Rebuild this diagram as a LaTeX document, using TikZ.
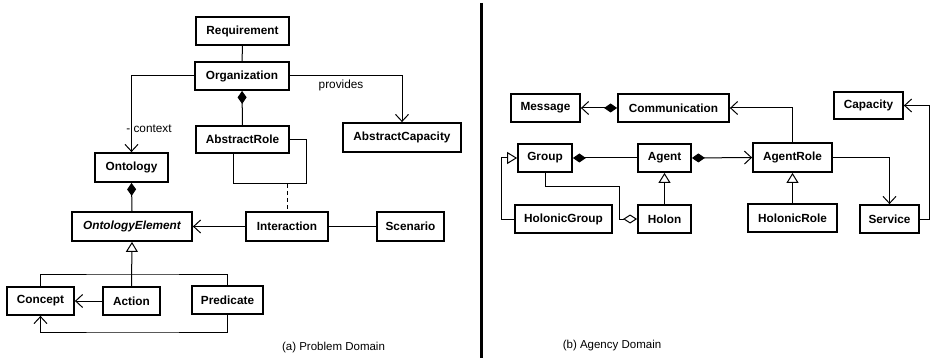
\documentclass[tikz,border=0pt]{standalone}
\usepackage{fontspec}
\setmainfont{Liberation Sans}
\usetikzlibrary{arrows.meta}
\tikzset{
  cls/.style={draw, line width=1.8pt, font=\fontsize{11.8}{14}\selectfont\bfseries, inner sep=0pt, minimum height=28pt, anchor=center},
  conn/.style={line width=1pt},
  barb/.tip={Straight Barb[length=7pt,width=13pt,line width=1pt]},
  comp/.tip={Diamond[length=13pt,width=9pt]},
  aggr/.tip={Diamond[length=14pt,width=9pt,open,fill=white]},
  gen/.tip={Triangle[length=10pt,width=12pt,open,fill=white]},
  lbl/.style={font=\fontsize{11.8}{14}\selectfont, inner sep=0pt},
  captxt/.style={font=\fontsize{11.5}{14}\selectfont, inner sep=0pt}
}
\begin{document}
\begin{tikzpicture}[x=1pt,y=-1pt]
\useasboundingbox (0,0) rectangle (931,358);
% ---------- (a) Problem Domain ----------
\node[cls, minimum width=93pt] (req) at (242.5,31) {Requirement};
\node[cls, minimum width=94pt] (org) at (242,76) {Organization};
\node[cls, minimum width=93pt, minimum height=27pt] (arole1) at (242.5,139.5) {AbstractRole};
\node[cls, minimum width=118pt, minimum height=29pt] (abscap) at (402,137.5) {AbstractCapacity};
\node[cls, minimum width=73pt, minimum height=29pt] (onto) at (131.5,167.5) {Ontology};
\node[cls, minimum width=120pt, minimum height=29pt] (ontoel) at (132,226.5) {\itshape OntologyElement};
\node[cls, minimum width=82pt, minimum height=29pt] (inter) at (287,226.5) {Interaction};
\node[cls, minimum width=67pt, minimum height=29pt] (scen) at (410.5,226.5) {Scenario};
\node[cls, minimum width=67pt] (concept) at (40.5,301) {Concept};
\node[cls, minimum width=57pt] (action) at (131.5,301) {Action};
\node[cls, minimum width=71pt] (pred) at (227.5,300) {Predicate};

\draw[conn] (req) -- (org);
\draw[conn, -barb] (org.west) -| (onto.north);
\draw[conn, -barb] (org.east) -| (abscap.north);
\node[lbl] (ctx) at (149,129) {- context};
\node[lbl] (prov) at (341,85) {provides};
\draw[conn, -comp] (arole1.north) -- (org.south);
% self association loop on AbstractRole
\coordinate (l1) at (306,140);
\coordinate (l2) at (233,184);
\coordinate (lm) at (287,184);
\draw[conn] (arole1.east |- l1) -- (l1) |- (l2) -- (arole1.south -| l2);
\draw[conn, dashed, dash pattern=on 4pt off 3pt] (lm) -- (inter.north);
\draw[conn, -comp] (ontoel.north) -- (onto.south);
\draw[conn, -barb] (inter.west) -- (ontoel.east);
\draw[conn] (inter.east) -- (scen.west);
% generalization tree
\coordinate (gj) at (131.5,274);
\draw[conn, -gen] (action.north) -- (ontoel.south);
\draw[conn] (concept.north) |- (gj) -| (pred.north);
\draw[conn, -barb] (action.west) -- (concept.east);
\coordinate (pl) at (131.5,332);
\draw[conn, -barb] (pred.south) |- (pl) -| (concept.south);
\node[captxt] (capa) at (333.5,348) {(a) Problem Domain};

% separator
\draw[line width=3pt] (481,3) -- (481,358);

% ---------- (b) Agency Domain ----------
\node[cls, minimum width=69pt] (msg) at (545.5,108) {Message};
\node[cls, minimum width=111pt] (comm) at (673.5,108) {Communication};
\node[cls, minimum width=69pt, minimum height=27pt] (capy) at (868.5,105.5) {Capacity};
\node[cls, minimum width=54pt] (group) at (545,158) {Group};
\node[cls, minimum width=53pt] (agent) at (664.5,158) {Agent};
\node[cls, minimum width=79pt, minimum height=29pt] (arole) at (792.5,157.5) {AgentRole};
\node[cls, minimum width=59pt] (serv) at (889.5,219) {Service};
\node[cls, minimum width=97pt] (hgroup) at (563.5,219) {HolonicGroup};
\node[cls, minimum width=53pt] (holon) at (664.5,219) {Holon};
\node[cls, minimum width=89pt] (hrole) at (792.5,218) {HolonicRole};

\draw[conn, barb-comp] (msg.east) -- (comm.west);
\draw[conn, -barb] (arole.north) |- (comm.east);
\draw[conn, comp-] (group.east) -- (agent.west);
\draw[conn, comp-barb] (agent.east) -- (arole.west);
\draw[conn, -barb] (arole.east) -| (serv.north);
\coordinate (sr) at (929.5,219);
\draw[conn, -barb] (serv.east) -- (sr) |- (capy.east);
\coordinate (hg) at (501,219);
\draw[conn, -gen] (hgroup.west) -- (hg) |- (group.west);
\coordinate (gh) at (619,187);
\draw[conn, -aggr] (group.south) |- (gh) |- (holon.west);
\draw[conn, -gen] (holon.north) -- (agent.south);
\draw[conn, -gen] (hrole.north) -- (arole.south);
\node[captxt] (capb) at (612,346) {(b) Agency Domain};
\end{tikzpicture}
\end{document}
